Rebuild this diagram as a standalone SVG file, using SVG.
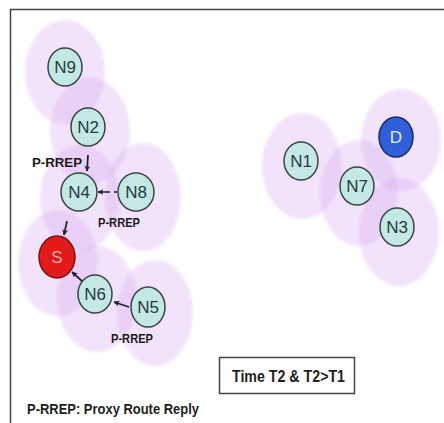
<svg xmlns="http://www.w3.org/2000/svg" width="444" height="423" viewBox="0 0 444 423">
  <defs>
    <marker id="head" viewBox="0 0 10 10" refX="9" refY="5" markerWidth="6" markerHeight="6" orient="auto" markerUnits="userSpaceOnUse">
      <path d="M0,0 L10,5 L0,10 L3,5 Z" fill="#1e1e2e"/>
    </marker>
    <filter id="soft" x="-10%" y="-10%" width="120%" height="120%">
      <feGaussianBlur stdDeviation="1.5"/>
    </filter>
    <style>
      .range { fill: #d8a8f0; fill-opacity: 0.32; }
      .node { fill: #c4e9e5; stroke: #3a4444; stroke-width: 1.5; }
      .src { fill: #e21a1a; stroke: #7a1010; stroke-width: 1.5; }
      .dst { fill: #2f5fd9; stroke: #1a2a66; stroke-width: 1.5; }
      .lbl { font-family: "Liberation Sans", Arial, sans-serif; font-size: 17px; fill: #263a3a; text-anchor: middle; dominant-baseline: central; }
      .tag { font-family: "Liberation Sans", Arial, sans-serif; font-size: 13px; font-weight: bold; fill: #1a1a1a; }
      .link { stroke: #1e1e2e; stroke-width: 1.7; fill: none; marker-end: url(#head); }
      .frame { stroke: #444; stroke-width: 1.5; fill: none; }
    </style>
  </defs>

  <rect width="444" height="423" fill="#ffffff"/>

  <!-- outer frame: top and left edges -->
  <path class="frame" d="M10.5,423 L10.5,9.5 L444,9.5"/>

  <!-- transmission ranges -->
  <g id="ranges" filter="url(#soft)">
    <ellipse class="range" cx="65" cy="72" rx="40" ry="52"/>
    <ellipse class="range" cx="90" cy="131" rx="40" ry="53"/>
    <ellipse class="range" cx="80" cy="198" rx="40" ry="53"/>
    <ellipse class="range" cx="143" cy="197" rx="38" ry="54"/>
    <ellipse class="range" cx="58" cy="263" rx="40" ry="53"/>
    <ellipse class="range" cx="97" cy="299" rx="40" ry="53"/>
    <ellipse class="range" cx="155" cy="313" rx="38" ry="53"/>
    <ellipse class="range" cx="302" cy="166" rx="40" ry="53"/>
    <ellipse class="range" cx="359" cy="193" rx="39" ry="53"/>
    <ellipse class="range" cx="401" cy="140" rx="40" ry="51"/>
    <ellipse class="range" cx="399" cy="232" rx="40" ry="54"/>
  </g>

  <!-- proxy route reply arrows -->
  <g id="connectors">
    <line class="link" x1="88" y1="155" x2="87" y2="171"/>
    <line class="link" x1="117" y1="192" x2="98" y2="192" stroke-dasharray="3 4 12"/>
    <line class="link" x1="67" y1="221" x2="64" y2="235"/>
    <line class="link" x1="83" y1="282" x2="72" y2="272"/>
    <line class="link" x1="129" y1="307" x2="114" y2="302"/>
  </g>

  <g id="N9"><ellipse class="node" cx="65" cy="67" rx="17" ry="19"/><text class="lbl" x="65" y="67">N9</text></g>
  <g id="N2"><ellipse class="node" cx="88" cy="127" rx="17" ry="19"/><text class="lbl" x="88" y="127">N2</text></g>
  <g id="N4"><ellipse class="node" cx="79" cy="192" rx="18" ry="19"/><text class="lbl" x="79" y="192">N4</text></g>
  <g id="N8"><ellipse class="node" cx="136" cy="192" rx="18" ry="19"/><text class="lbl" x="136" y="192">N8</text></g>
  <g id="S"><ellipse class="src" cx="57" cy="257" rx="18" ry="21"/><text class="lbl" x="57" y="257" style="fill:#f5b0a8">S</text></g>
  <g id="N6"><ellipse class="node" cx="95" cy="294" rx="17" ry="19"/><text class="lbl" x="95" y="294">N6</text></g>
  <g id="N5"><ellipse class="node" cx="148" cy="307" rx="17" ry="20"/><text class="lbl" x="148" y="307">N5</text></g>
  <g id="N1"><ellipse class="node" cx="301" cy="161" rx="17" ry="19"/><text class="lbl" x="301" y="161">N1</text></g>
  <g id="N7"><ellipse class="node" cx="357" cy="186" rx="17" ry="19"/><text class="lbl" x="357" y="186">N7</text></g>
  <g id="D"><ellipse class="dst" cx="396" cy="137" rx="17" ry="20"/><text class="lbl" x="396" y="137" style="fill:#e6eefc">D</text></g>
  <g id="N3"><ellipse class="node" cx="397" cy="227" rx="17" ry="19"/><text class="lbl" x="397" y="227">N3</text></g>

  <!-- reply labels -->
  <text class="tag" x="32" y="167" textLength="50" lengthAdjust="spacingAndGlyphs">P-RREP</text>
  <text class="tag" x="98" y="227" textLength="42" lengthAdjust="spacingAndGlyphs">P-RREP</text>
  <text class="tag" x="111" y="343" textLength="42" lengthAdjust="spacingAndGlyphs">P-RREP</text>

  <!-- time stamp box -->
  <g id="time">
    <rect x="219.5" y="357.5" width="135" height="36" fill="#ffffff" stroke="#444" stroke-width="1.5"/>
    <text x="232" y="382" font-family="Liberation Sans, Arial, sans-serif" font-size="17" font-weight="bold" fill="#1e1e1e" textLength="113" lengthAdjust="spacingAndGlyphs">Time T2 &amp; T2&gt;T1</text>
  </g>

  <!-- legend -->
  <text x="27" y="414" font-family="Liberation Sans, Arial, sans-serif" font-size="15" font-weight="bold" fill="#1e1e1e" textLength="172" lengthAdjust="spacingAndGlyphs">P-RREP: Proxy Route Reply</text>
</svg>
